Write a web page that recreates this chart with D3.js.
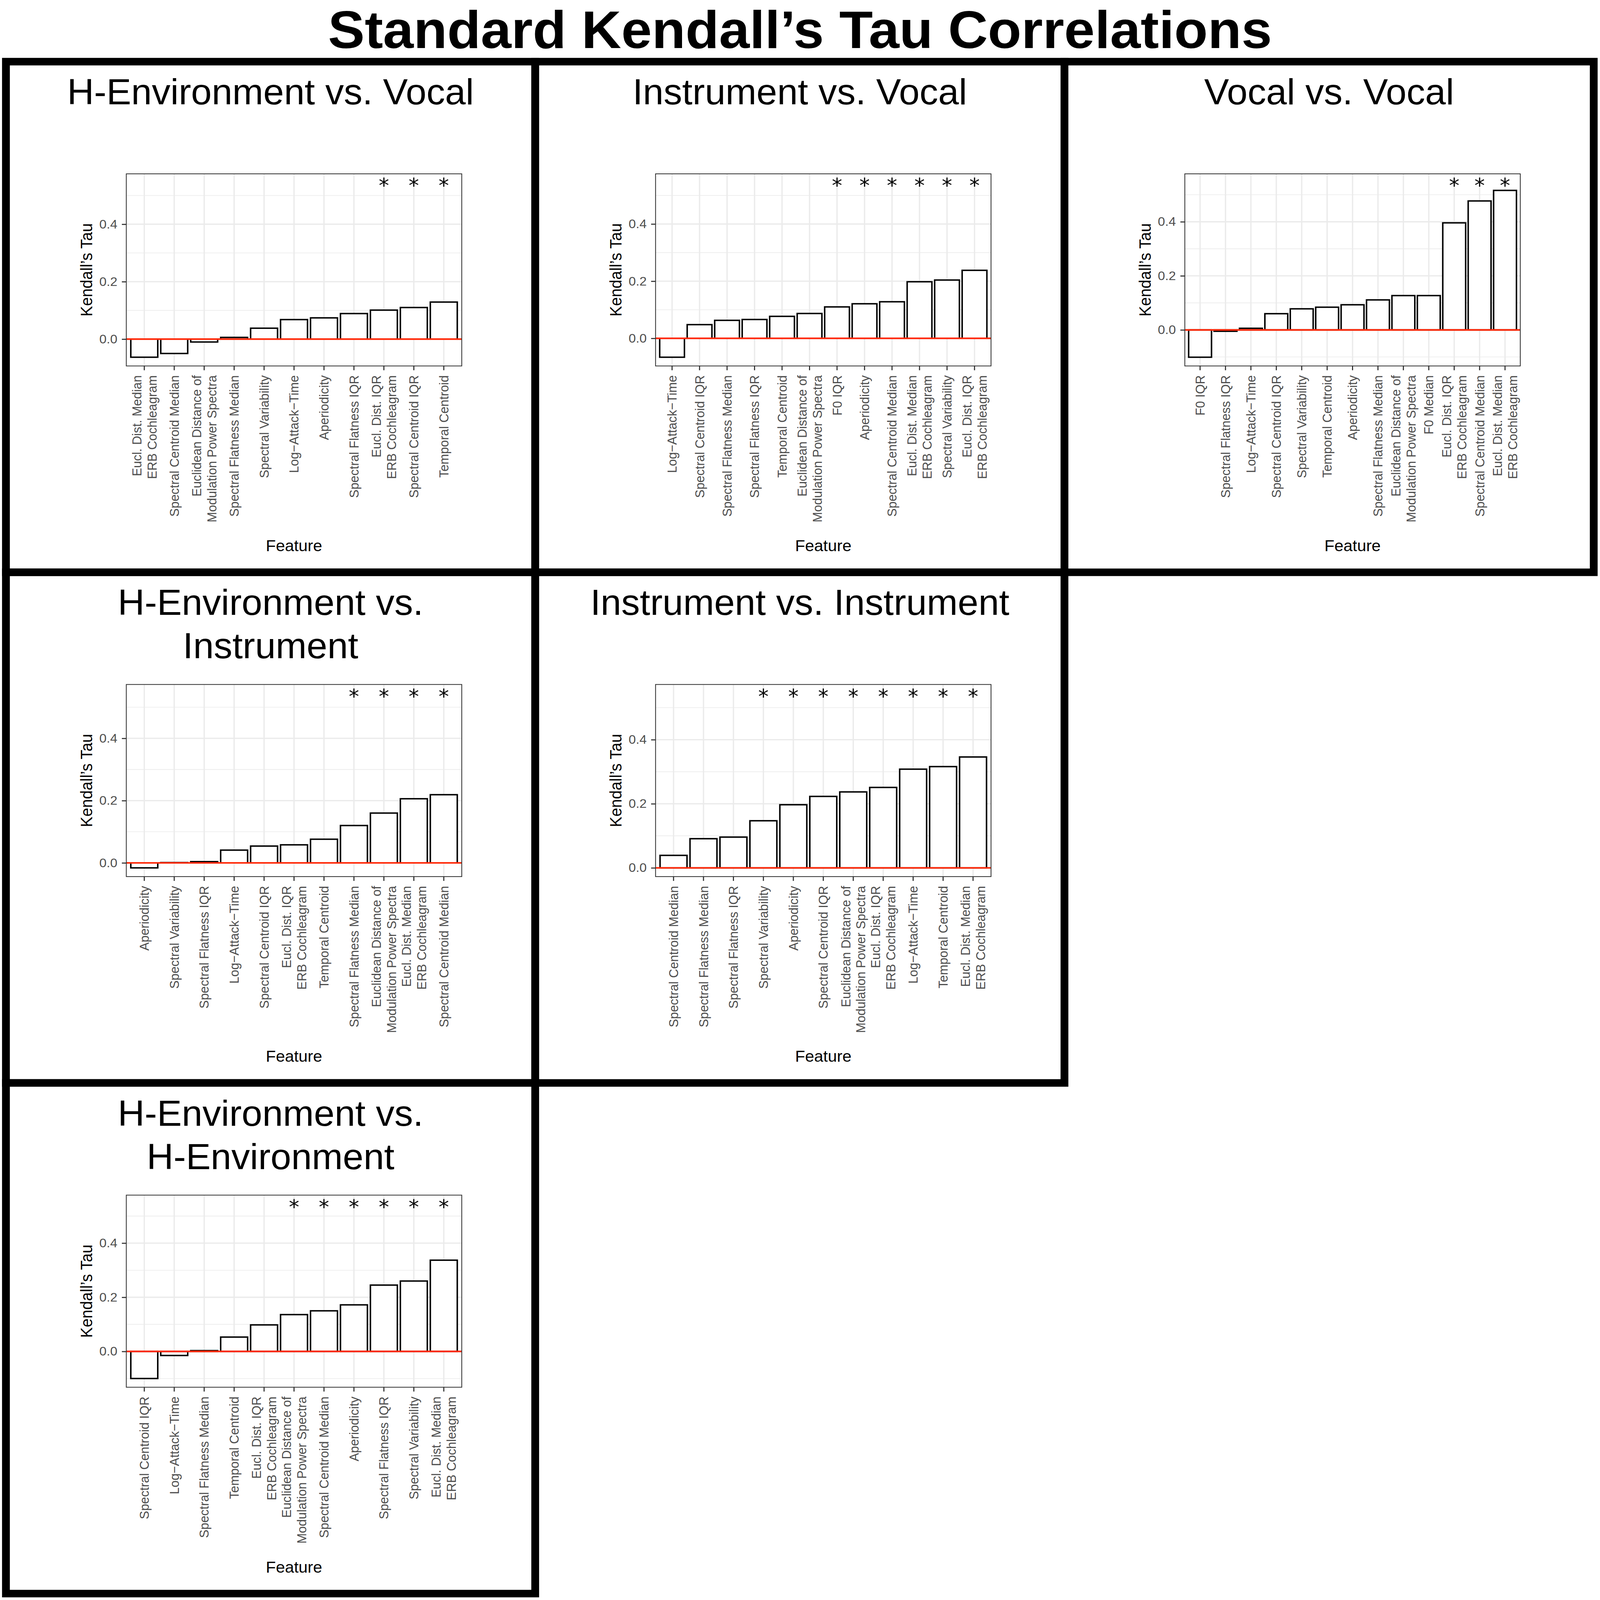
<!DOCTYPE html>
<html>
<head>
  <title>Standard Kendall's Tau Correlations</title>
  <style>
    html, body { margin: 0; padding: 0; height: 100%; overflow: hidden; background: #fff; }
    #chart { display: block; width: 100vw; height: 100vh; }
    text { font-family: "Liberation Sans", Arial, Helvetica, sans-serif; }
    .grid-major { stroke: #ebebeb; stroke-width: 3.6; }
    .grid-minor { stroke: #ebebeb; stroke-width: 1.8; }
    .bar { fill: #fff; stroke: #000; stroke-width: 4; }
    .zero { stroke: #ff2a0a; stroke-width: 4.5; }
    .star { font-family: "DejaVu Sans", sans-serif; font-size: 56px; }
    .axis .tick line { stroke: #333; stroke-width: 3; }
    .axis .tick text { fill: #4d4d4d; font-size: 35px; }
  </style>
</head>
<body>
  <svg id="chart"></svg>

  <script src="https://d3js.org/d3.v7.min.js"></script>
  <script>
    // data
    const mainTitle = "Standard Kendall’s Tau Correlations";
    const panelTitles = [
      "H-Environment vs. Vocal",
      "Instrument vs. Vocal",
      "Vocal vs. Vocal",
      "H-Environment vs.\nInstrument",
      "Instrument vs. Instrument",
      "H-Environment vs.\nH-Environment"
    ];

    const envVocalFeatures = ["Eucl. Dist. Median\nERB Cochleagram", "Spectral Centroid Median", "Euclidean Distance of\nModulation Power Spectra", "Spectral Flatness Median", "Spectral Variability", "Log−Attack−Time", "Aperiodicity", "Spectral Flatness IQR", "Eucl. Dist. IQR\nERB Cochleagram", "Spectral Centroid IQR", "Temporal Centroid"];
    const envVocalTau = [-0.063, -0.050, -0.010, 0.006, 0.038, 0.068, 0.074, 0.089, 0.101, 0.110, 0.129];
    const envVocalSig = [0, 0, 0, 0, 0, 0, 0, 0, 1, 1, 1];

    const instVocalFeatures = ["Log−Attack−Time", "Spectral Centroid IQR", "Spectral Flatness Median", "Spectral Flatness IQR", "Temporal Centroid", "Euclidean Distance of\nModulation Power Spectra", "F0 IQR", "Aperiodicity", "Spectral Centroid Median", "Eucl. Dist. Median\nERB Cochleagram", "Spectral Variability", "Eucl. Dist. IQR\nERB Cochleagram"];
    const instVocalTau = [-0.066, 0.048, 0.063, 0.066, 0.077, 0.087, 0.110, 0.121, 0.128, 0.198, 0.204, 0.238];
    const instVocalSig = [0, 0, 0, 0, 0, 0, 1, 1, 1, 1, 1, 1];

    const vocalVocalFeatures = ["F0 IQR", "Spectral Flatness IQR", "Log−Attack−Time", "Spectral Centroid IQR", "Spectral Variability", "Temporal Centroid", "Aperiodicity", "Spectral Flatness Median", "Euclidean Distance of\nModulation Power Spectra", "F0 Median", "Eucl. Dist. IQR\nERB Cochleagram", "Spectral Centroid Median", "Eucl. Dist. Median\nERB Cochleagram"];
    const vocalVocalTau = [-0.101, -0.005, 0.006, 0.060, 0.078, 0.084, 0.093, 0.111, 0.127, 0.127, 0.396, 0.477, 0.516];
    const vocalVocalSig = [0, 0, 0, 0, 0, 0, 0, 0, 0, 0, 1, 1, 1];

    const envInstFeatures = ["Aperiodicity", "Spectral Variability", "Spectral Flatness IQR", "Log−Attack−Time", "Spectral Centroid IQR", "Eucl. Dist. IQR\nERB Cochleagram", "Temporal Centroid", "Spectral Flatness Median", "Euclidean Distance of\nModulation Power Spectra", "Eucl. Dist. Median\nERB Cochleagram", "Spectral Centroid Median"];
    const envInstTau = [-0.016, 0.001, 0.004, 0.041, 0.054, 0.058, 0.076, 0.120, 0.160, 0.206, 0.219];
    const envInstSig = [0, 0, 0, 0, 0, 0, 0, 1, 1, 1, 1];

    const instInstFeatures = ["Spectral Centroid Median", "Spectral Flatness Median", "Spectral Flatness IQR", "Spectral Variability", "Aperiodicity", "Spectral Centroid IQR", "Euclidean Distance of\nModulation Power Spectra", "Eucl. Dist. IQR\nERB Cochleagram", "Log−Attack−Time", "Temporal Centroid", "Eucl. Dist. Median\nERB Cochleagram"];
    const instInstTau = [0.039, 0.091, 0.096, 0.147, 0.197, 0.223, 0.237, 0.251, 0.308, 0.316, 0.346];
    const instInstSig = [0, 0, 0, 1, 1, 1, 1, 1, 1, 1, 1];

    const envEnvFeatures = ["Spectral Centroid IQR", "Log−Attack−Time", "Spectral Flatness Median", "Temporal Centroid", "Eucl. Dist. IQR\nERB Cochleagram", "Euclidean Distance of\nModulation Power Spectra", "Spectral Centroid Median", "Aperiodicity", "Spectral Flatness IQR", "Spectral Variability", "Eucl. Dist. Median\nERB Cochleagram"];
    const envEnvTau = [-0.100, -0.015, 0.003, 0.053, 0.098, 0.136, 0.150, 0.172, 0.245, 0.260, 0.337];
    const envEnvSig = [0, 0, 0, 0, 0, 1, 1, 1, 1, 1, 1];

    const starTau = 0.545;           // height where the significance marks sit
    const yTicks = [0, 0.2, 0.4];
    const yMinorTicks = [-0.1, 0.1, 0.3, 0.5];
    const xTitle = "Feature";
    const yTitle = "Kendall’s Tau";

    const panels = [
      { features: envVocalFeatures, tau: envVocalTau, sig: envVocalSig },
      { features: instVocalFeatures, tau: instVocalTau, sig: instVocalSig },
      { features: vocalVocalFeatures, tau: vocalVocalTau, sig: vocalVocalSig },
      { features: envInstFeatures, tau: envInstTau, sig: envInstSig },
      { features: instInstFeatures, tau: instInstTau, sig: instInstSig },
      { features: envEnvFeatures, tau: envEnvTau, sig: envEnvSig }
    ];

    // layout
    const width = 4307;
    const height = 4464;
    const cells = [[0, 0], [0, 1], [0, 2], [1, 0], [1, 1], [2, 0]]; // [row, col]
    const boxSize = 1424.7;
    const boxX0 = 16;
    const boxY0 = 172;
    const plot = { left: 324, right: 1227, top: 313, bottom: 849 };

    // drawn in a fixed coordinate box that is stretched to the window
    const svg = d3.select("#chart")
      .attr("viewBox", `0 0 ${width} ${height}`)
      .attr("preserveAspectRatio", "none");

    svg.append("rect")
      .attr("width", width)
      .attr("height", height)
      .attr("fill", "#fff");

    svg.append("text")
      .attr("x", width / 2)
      .attr("y", 134)
      .attr("text-anchor", "middle")
      .style("font-size", "148px")
      .style("font-weight", "bold")
      .text(mainTitle);

    panels.forEach((p, i) => {
      const [row, col] = cells[i];
      const g = svg.append("g")
        .attr("transform", `translate(${boxX0 + col * boxSize}, ${boxY0 + row * boxSize})`);

      // outer frame
      g.append("rect")
        .attr("width", boxSize)
        .attr("height", boxSize)
        .attr("fill", "none")
        .attr("stroke", "#000")
        .attr("stroke-width", 21);

      // panel title (may have two lines)
      const titleLines = panelTitles[i].split("\n");
      const title = g.append("text")
        .attr("text-anchor", "middle")
        .style("font-size", "100px");
      titleLines.forEach((t, k) => {
        title.append("tspan")
          .attr("x", boxSize / 2)
          .attr("y", 119 + k * 121)
          .text(t);
      });

      // scales
      const lo = Math.min(0, d3.min(p.tau));
      const hi = Math.max(starTau, d3.max(p.tau));
      const pad = (hi - lo) * 0.05;

      const x = d3.scaleBand()
        .domain(p.features)
        .range([plot.left, plot.right])
        .paddingInner(0.1)
        .paddingOuter(0.15);

      const y = d3.scaleLinear()
        .domain([lo - pad, hi + pad])
        .range([plot.bottom, plot.top]);

      const [d0, d1] = y.domain();
      const cx = d => x(d) + x.bandwidth() / 2;

      // grid
      g.append("g").selectAll("line")
        .data(yMinorTicks.filter(v => v > d0 && v < d1))
        .join("line")
        .attr("class", "grid-minor")
        .attr("x1", plot.left).attr("x2", plot.right)
        .attr("y1", d => y(d)).attr("y2", d => y(d));

      g.append("g").selectAll("line")
        .data(yTicks)
        .join("line")
        .attr("class", "grid-major")
        .attr("x1", plot.left).attr("x2", plot.right)
        .attr("y1", d => y(d)).attr("y2", d => y(d));

      g.append("g").selectAll("line")
        .data(p.features)
        .join("line")
        .attr("class", "grid-major")
        .attr("x1", cx).attr("x2", cx)
        .attr("y1", plot.top).attr("y2", plot.bottom);

      // bars
      g.append("g").selectAll("rect")
        .data(p.features)
        .join("rect")
        .attr("class", "bar")
        .attr("x", d => x(d))
        .attr("width", x.bandwidth())
        .attr("y", (d, k) => y(Math.max(0, p.tau[k])))
        .attr("height", (d, k) => Math.abs(y(p.tau[k]) - y(0)));

      // zero line
      g.append("line")
        .attr("class", "zero")
        .attr("x1", plot.left).attr("x2", plot.right)
        .attr("y1", y(0)).attr("y2", y(0));

      // significance marks
      g.append("g").selectAll("text")
        .data(p.features.filter((d, k) => p.sig[k]))
        .join("text")
        .attr("class", "star")
        .attr("x", cx)
        .attr("y", y(starTau))
        .attr("dy", "0.505em")
        .attr("text-anchor", "middle")
        .text("*");

      // panel border
      g.append("rect")
        .attr("x", plot.left).attr("y", plot.top)
        .attr("width", plot.right - plot.left)
        .attr("height", plot.bottom - plot.top)
        .attr("fill", "none")
        .attr("stroke", "#333")
        .attr("stroke-width", 2.2);

      // axes
      const yAxis = g.append("g")
        .attr("class", "axis")
        .attr("transform", `translate(${plot.left}, 0)`)
        .call(d3.axisLeft(y).tickValues(yTicks).tickFormat(d3.format(".1f")).tickSize(12).tickPadding(12));
      yAxis.select(".domain").remove();

      const xAxis = g.append("g")
        .attr("class", "axis")
        .attr("transform", `translate(0, ${plot.bottom})`)
        .call(d3.axisBottom(x).tickSize(12));
      xAxis.select(".domain").remove();

      const lineH = 41;
      xAxis.selectAll(".tick text")
        .attr("transform", "rotate(-90)")
        .attr("y", 0)
        .attr("dy", null)
        .attr("text-anchor", "end")
        .each(function (d) {
          const lines = d.split("\n");
          const t = d3.select(this).text(null);
          lines.forEach((s, k) => {
            t.append("tspan")
              .attr("x", -26)
              .attr("dy", k === 0 ? 12.3 - (lines.length - 1) * lineH / 2 : lineH)
              .text(s);
          });
        });

      // axis titles
      g.append("text")
        .attr("x", (plot.left + plot.right) / 2)
        .attr("y", 1366)
        .attr("text-anchor", "middle")
        .style("font-size", "44px")
        .text(xTitle);

      g.append("text")
        .attr("transform", `translate(232, ${(plot.top + plot.bottom) / 2}) rotate(-90)`)
        .attr("text-anchor", "middle")
        .style("font-size", "44px")
        .text(yTitle);
    });
  </script>
</body>
</html>
